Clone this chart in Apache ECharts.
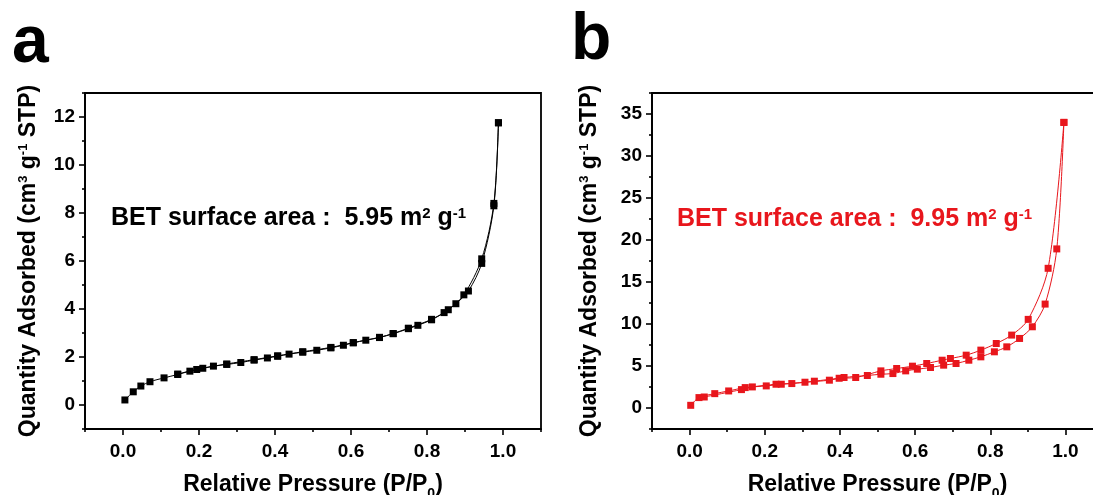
<!DOCTYPE html>
<html>
<head>
<meta charset="utf-8">
<script src="https://cdn.jsdelivr.net/npm/echarts@6/dist/echarts.min.js"></script>
<style>
  html, body { margin: 0; padding: 0; background: #fff; }
  #chart { width: 1093px; height: 495px; }
</style>
</head>
<body>
<div id="chart"></div>
<script>
// panel a (black) - adsorption / desorption branches
var pA_ads = [0.005, 0.027, 0.047, 0.071, 0.108, 0.144, 0.176, 0.21, 0.238, 0.273, 0.31, 0.345, 0.38, 0.407, 0.437, 0.473, 0.51, 0.547, 0.58, 0.606, 0.639, 0.675, 0.711, 0.751, 0.776, 0.812, 0.845, 0.876, 0.909, 0.944, 0.976, 0.988];
var qA_ads = [0.21, 0.55, 0.79, 0.97, 1.13, 1.27, 1.41, 1.53, 1.62, 1.69, 1.77, 1.87, 1.96, 2.03, 2.12, 2.2, 2.28, 2.38, 2.49, 2.59, 2.7, 2.81, 2.97, 3.18, 3.32, 3.55, 3.85, 4.22, 4.75, 5.9, 8.3, 11.76];
var pA_des = [0.988, 0.976, 0.944, 0.897, 0.856, 0.812, 0.751, 0.711, 0.675, 0.606, 0.547, 0.473, 0.407, 0.345, 0.273, 0.194, 0.144];
var qA_des = [11.76, 8.4, 6.09, 4.59, 3.97, 3.57, 3.2, 2.98, 2.82, 2.6, 2.4, 2.22, 2.05, 1.89, 1.71, 1.48, 1.29];

// panel b (red)
var pB_ads = [0.003, 0.025, 0.067, 0.104, 0.148, 0.204, 0.244, 0.307, 0.372, 0.411, 0.473, 0.509, 0.541, 0.575, 0.606, 0.641, 0.676, 0.709, 0.743, 0.775, 0.811, 0.844, 0.878, 0.912, 0.946, 0.977, 0.996];
var qB_ads = [0.32, 1.24, 1.71, 2.03, 2.43, 2.63, 2.83, 3.07, 3.31, 3.63, 3.87, 4.02, 4.1, 4.42, 4.62, 4.82, 5.1, 5.3, 5.69, 6.09, 6.69, 7.28, 8.28, 9.67, 12.37, 18.94, 34.0];
var pB_des = [0.996, 0.954, 0.901, 0.857, 0.816, 0.775, 0.736, 0.694, 0.672, 0.631, 0.593, 0.551, 0.509, 0.442, 0.398, 0.332, 0.272, 0.23, 0.167, 0.138, 0.039];
var qB_des = [34.0, 16.63, 10.55, 8.68, 7.68, 6.89, 6.29, 5.89, 5.69, 5.3, 4.98, 4.7, 4.42, 3.63, 3.54, 3.19, 2.91, 2.83, 2.51, 2.19, 1.31];

// ticks
var xMajor = [0, 0.2, 0.4, 0.6, 0.8, 1.0];
var xMinor = [-0.1, 0.1, 0.3, 0.5, 0.7, 0.9, 1.1];
var yMajorA = [0, 2, 4, 6, 8, 10, 12];
var yMinorA = [-1, 1, 3, 5, 7, 9, 11, 13];
var yMajorB = [0, 5, 10, 15, 20, 25, 30, 35];
var yMinorB = [-2.5, 2.5, 7.5, 12.5, 17.5, 22.5, 27.5, 32.5, 37.5];

var FONT = 'Liberation Sans, Arial, sans-serif';
var RED = '#e8161c';

function zip(xs, ys) {
  return xs.map(function (x, i) { return [x, ys[i]]; });
}

// axis with line, labels and title (no ticks)
function mainX(grid, name) {
  return {
    type: 'value', gridIndex: grid, position: 'bottom', min: -0.1, max: 1.1,
    axisLine: { show: true, onZero: false, lineStyle: { color: '#000', width: 1.8 } },
    axisTick: { show: false },
    axisLabel: { customValues: xMajor, margin: 13, color: '#000', fontFamily: FONT, fontWeight: 'bold', fontSize: 19,
      formatter: function (v) { return v.toFixed(1); } },
    splitLine: { show: false },
    name: name, nameLocation: 'middle', nameGap: 44,
    nameTextStyle: {
      rich: {
        n: { fontFamily: FONT, fontWeight: 'bold', fontSize: 23, color: '#000' },
        s: { fontFamily: FONT, fontWeight: 'bold', fontSize: 14, color: '#000', verticalAlign: 'bottom', padding: [0, 0, -5, 0] }
      }
    }
  };
}
function mainY(grid, min, max, major, gap) {
  return {
    type: 'value', gridIndex: grid, position: 'left', min: min, max: max,
    axisLine: { show: true, onZero: false, lineStyle: { color: '#000', width: 1.8 } },
    axisTick: { show: false },
    axisLabel: { customValues: major, margin: 10, color: '#000', fontFamily: FONT, fontWeight: 'bold', fontSize: 19 },
    splitLine: { show: false },
    name: '{n|Quantity Adsorbed (cm}{s|3}{n| g}{s|-1}{n| STP)}',
    nameLocation: 'middle', nameGap: gap,
    nameTextStyle: {
      rich: {
        n: { fontFamily: FONT, fontWeight: 'bold', fontSize: 23, color: '#000' },
        s: { fontFamily: FONT, fontWeight: 'bold', fontSize: 13, color: '#000', verticalAlign: 'top' }
      }
    }
  };
}
// ticks-only axes (major and minor)
function tickX(grid, vals, len) {
  return {
    type: 'value', gridIndex: grid, position: 'bottom', min: -0.1, max: 1.1,
    axisLine: { show: false, onZero: false },
    axisTick: { show: true, length: len, customValues: vals, lineStyle: { color: '#000', width: 1.6 } },
    axisLabel: { show: false },
    splitLine: { show: false }
  };
}
function tickY(grid, min, max, vals, len) {
  return {
    type: 'value', gridIndex: grid, position: 'left', min: min, max: max,
    axisLine: { show: false, onZero: false },
    axisTick: { show: true, length: len, customValues: vals, lineStyle: { color: '#000', width: 1.6 } },
    axisLabel: { show: false },
    splitLine: { show: false }
  };
}
function line(name, data, color, xi, yi) {
  return {
    name: name, type: 'line', data: data, xAxisIndex: xi, yAxisIndex: yi,
    symbol: 'rect', symbolSize: 7, showSymbol: true, smooth: 0.3,
    lineStyle: { color: color, width: 1 },
    itemStyle: { color: color },
    animation: false
  };
}

var xName = '{n|Relative Pressure (P/P}{s|0}{n|)}';

var myChart = echarts.init(document.getElementById('chart'));
myChart.setOption({
  backgroundColor: '#fff',
  animation: false,
  grid: [
    { left: 85, top: 93, width: 456, height: 336, outerBoundsMode: 'none', containLabel: false,
      show: true, borderColor: '#000', borderWidth: 1.8, backgroundColor: 'transparent' },
    { left: 652, top: 93, width: 451, height: 336, outerBoundsMode: 'none', containLabel: false,
      show: true, borderColor: '#000', borderWidth: 1.8, backgroundColor: 'transparent' }
  ],
  xAxis: [
    mainX(0, xName), tickX(0, xMajor, 6), tickX(0, xMinor, 3),
    mainX(1, xName), tickX(1, xMajor, 6), tickX(1, xMinor, 3)
  ],
  yAxis: [
    mainY(0, -1, 13, yMajorA, 45), tickY(0, -1, 13, yMajorA, 6), tickY(0, -1, 13, yMinorA, 3),
    mainY(1, -2.5, 37.5, yMajorB, 51), tickY(1, -2.5, 37.5, yMajorB, 6), tickY(1, -2.5, 37.5, yMinorB, 3)
  ],
  series: [
    line('a-ads', zip(pA_ads, qA_ads), '#000', 0, 0),
    line('a-des', zip(pA_des, qA_des), '#000', 0, 0),
    line('b-ads', zip(pB_ads, qB_ads), RED, 3, 3),
    line('b-des', zip(pB_des, qB_des), RED, 3, 3)
  ],
  graphic: [
    { type: 'text', left: 12, top: 11, style: { text: 'a', fontFamily: FONT, fontWeight: 'bold', fontSize: 66, fill: '#000' } },
    { type: 'text', left: 571, top: 8, style: { text: 'b', fontFamily: FONT, fontWeight: 'bold', fontSize: 66, fill: '#000' } },
    { type: 'text', left: 111, top: 206, style: {
        text: '{n|BET surface area :  5.95 m}{s|2}{n| g}{s|-1}',
        rich: {
          n: { fontFamily: FONT, fontWeight: 'bold', fontSize: 25, fill: '#000' },
          s: { fontFamily: FONT, fontWeight: 'bold', fontSize: 15, fill: '#000', verticalAlign: 'top' }
        } } },
    { type: 'text', left: 677, top: 207, style: {
        text: '{n|BET surface area :  9.95 m}{s|2}{n| g}{s|-1}',
        rich: {
          n: { fontFamily: FONT, fontWeight: 'bold', fontSize: 25, fill: RED },
          s: { fontFamily: FONT, fontWeight: 'bold', fontSize: 15, fill: RED, verticalAlign: 'top' }
        } } }
  ]
});
</script>
</body>
</html>
